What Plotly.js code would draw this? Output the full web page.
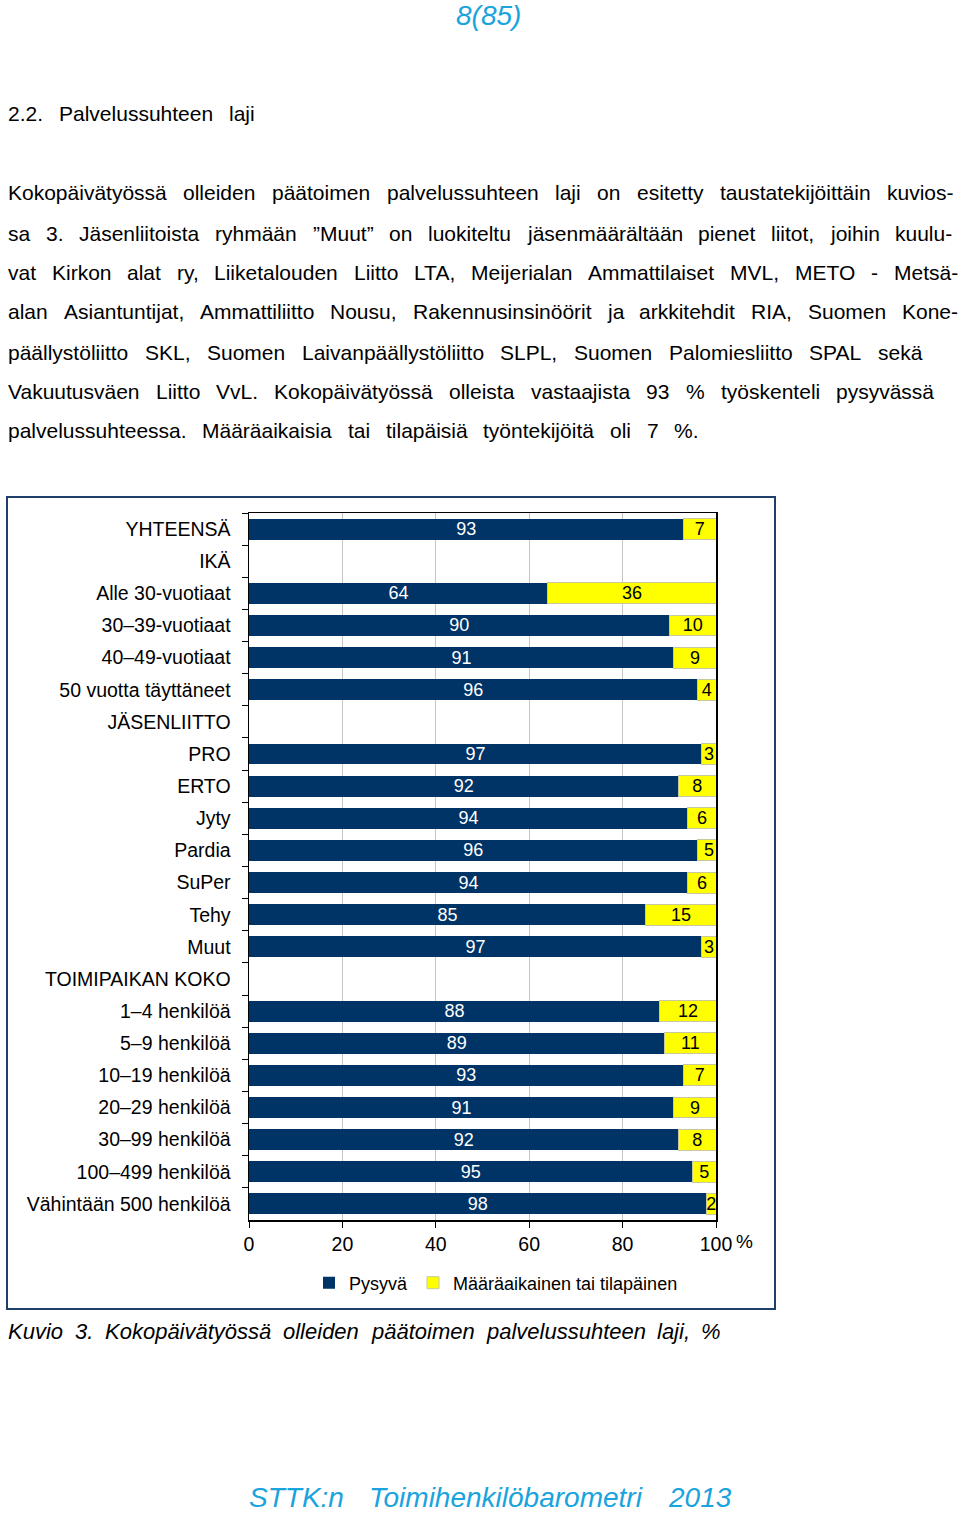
<!DOCTYPE html>
<html>
<head>
<meta charset="utf-8">
<script src="https://cdn.plot.ly/plotly-3.0.1.min.js"></script>
<style>
  body { margin: 0; background: #fff; }
  #myDiv { width: 960px; height: 1515px; }
</style>
</head>
<body>
<div id="myDiv"></div>
<script>
// chart data
var categories = ['YHTEENSÄ', 'IKÄ', 'Alle 30-vuotiaat', '30–39-vuotiaat', '40–49-vuotiaat',
  '50 vuotta täyttäneet', 'JÄSENLIITTO', 'PRO', 'ERTO', 'Jyty', 'Pardia', 'SuPer', 'Tehy',
  'Muut', 'TOIMIPAIKAN KOKO', '1–4 henkilöä', '5–9 henkilöä', '10–19 henkilöä',
  '20–29 henkilöä', '30–99 henkilöä', '100–499 henkilöä', 'Vähintään 500 henkilöä'];
var pysyva = [93, null, 64, 90, 91, 96, null, 97, 92, 94, 96, 94, 85, 97, null, 88, 89, 93, 91, 92, 95, 98];
var maaraaikainen = [7, null, 36, 10, 9, 4, null, 3, 8, 6, 5, 6, 15, 3, null, 12, 11, 7, 9, 8, 5, 2];
var xTicks = [0, 20, 40, 60, 80, 100];

// page text
var pageNo = '8(85)';
var heading = '2.2.  Palvelussuhteen  laji';
var paragraph = [
  'Kokopäivätyössä olleiden päätoimen palvelussuhteen laji on esitetty taustatekijöittäin kuvios-',
  'sa 3. Jäsenliitoista ryhmään ”Muut” on luokiteltu jäsenmäärältään pienet liitot, joihin kuulu-',
  'vat Kirkon alat ry, Liiketalouden Liitto LTA, Meijerialan Ammattilaiset MVL, METO - Metsä-',
  'alan Asiantuntijat, Ammattiliitto Nousu, Rakennusinsinöörit ja arkkitehdit RIA, Suomen Kone-',
  'päällystöliitto SKL, Suomen Laivanpäällystöliitto SLPL, Suomen Palomiesliitto SPAL sekä',
  'Vakuutusväen Liitto VvL. Kokopäivätyössä olleista vastaajista 93 % työskenteli pysyvässä',
  'palvelussuhteessa. Määräaikaisia tai tilapäisiä työntekijöitä oli 7 %.'
];
var caption = 'Kuvio 3. Kokopäivätyössä olleiden päätoimen palvelussuhteen laji, %';
var footer = 'STTK:n Toimihenkilöbarometri 2013';

var W = 960, H = 1515;
var FONT = 'Liberation Sans, Arial, sans-serif';
var navy = '#003366';
var yellow = '#FFFF00';
var blueText = '#1AA3DD';

function px(x) { return x / W; }
function py(y) { return 1 - y / H; }

var canvas = document.createElement('canvas');
var ctx = canvas.getContext('2d');

// spread the words of one line between x0 and x1, like justified text
function wordLine(str, y, x0, x1, size, style, color) {
  var words = str.split(/\s+/);
  ctx.font = (style === 'italic' ? 'italic ' : '') + size + 'px "Liberation Sans", Arial';
  var widths = words.map(function(w) { return ctx.measureText(w).width; });
  var total = widths.reduce(function(a, b) { return a + b; }, 0);
  var gap = words.length > 1 ? (x1 - x0 - total) / (words.length - 1) : 0;
  var x = x0, out = [];
  words.forEach(function(w, i) {
    out.push({
      text: w, x: px(x), y: py(y), xref: 'paper', yref: 'paper',
      xanchor: 'left', yanchor: 'middle', showarrow: false, borderpad: 0,
      font: {family: FONT, size: size, color: color, style: style || 'normal'}
    });
    x += widths[i] + gap;
  });
  return out;
}

var annotations = [];
annotations.push({
  text: pageNo, x: px(488), y: py(16), xref: 'paper', yref: 'paper',
  xanchor: 'center', yanchor: 'middle', showarrow: false,
  font: {family: FONT, size: 28, color: blueText, style: 'italic'}
});
annotations = annotations.concat(wordLine(heading, 114, 7, 254, 21, 'normal', '#000'));

var lineY = [193, 233, 273, 312, 352, 392, 431];
var lineEnd = [953, 951, 957, 957, 921, 933, 698];
paragraph.forEach(function(l, i) {
  annotations = annotations.concat(wordLine(l, lineY[i], 7, lineEnd[i], 21, 'normal', '#000'));
});
annotations = annotations.concat(wordLine(caption, 1331, 7, 720, 22, 'italic', '#000'));
annotations = annotations.concat(wordLine(footer, 1497, 248, 729, 28, 'italic', blueText));

// % sign after the last tick
annotations.push({
  text: '%', x: px(734), y: py(1241), xref: 'paper', yref: 'paper',
  xanchor: 'left', yanchor: 'middle', showarrow: false,
  font: {family: FONT, size: 19, color: '#000'}
});

function labels(arr) {
  return arr.map(function(v) { return v === null ? '' : String(v); });
}

var trace1 = {
  type: 'bar', orientation: 'h', name: 'Pysyvä',
  y: categories, x: pysyva,
  text: labels(pysyva), textposition: 'inside', insidetextanchor: 'middle',
  textangle: 0, constraintext: 'none',
  textfont: {family: FONT, size: 18, color: '#fff'},
  marker: {color: navy, line: {color: navy, width: 0}},
  hoverinfo: 'skip'
};

var trace2 = {
  type: 'bar', orientation: 'h', name: 'Määräaikainen tai tilapäinen',
  y: categories, x: maaraaikainen,
  text: labels(maaraaikainen), textposition: 'inside', insidetextanchor: 'middle',
  textangle: 0, constraintext: 'none',
  textfont: {family: FONT, size: 18, color: '#000'},
  marker: {color: yellow, line: {color: '#C8C8A0', width: 1}},
  hoverinfo: 'skip'
};

var data = [trace1, trace2];

var layout = {
  width: W, height: H,
  margin: {l: 0, r: 0, t: 0, b: 0},
  paper_bgcolor: '#fff', plot_bgcolor: '#fff',
  barmode: 'stack', bargap: 0.35,
  showlegend: true,
  legend: {
    orientation: 'h', x: px(496), xanchor: 'center', y: py(1283), yanchor: 'middle',
    font: {family: FONT, size: 18, color: '#000'}, traceorder: 'normal',
    itemwidth: 30
  },
  xaxis: {
    domain: [px(249), px(716)], range: [0, 100],
    tickvals: xTicks, ticktext: xTicks.map(String),
    showgrid: true, gridcolor: '#C4C4C4', gridwidth: 1, zeroline: false,
    showline: true, linecolor: '#000', linewidth: 1.5, mirror: true,
    ticks: 'outside', ticklen: 6, tickcolor: '#000',
    tickfont: {family: FONT, size: 19.5, color: '#000'}
  },
  yaxis: {
    domain: [py(1220), py(513)],
    type: 'category', categoryorder: 'array', categoryarray: categories,
    autorange: 'reversed',
    showgrid: false, zeroline: false,
    showline: true, linecolor: '#000', linewidth: 1.5, mirror: true,
    ticks: 'outside', ticklen: 6, tickcolor: '#000', tickson: 'boundaries',
    ticklabelstandoff: 13,
    tickfont: {family: FONT, size: 19.5, color: '#000'}
  },
  shapes: [{
    type: 'rect', xref: 'paper', yref: 'paper',
    x0: px(7), x1: px(775), y0: py(1309), y1: py(497),
    line: {color: '#1F3F6B', width: 2}, fillcolor: 'rgba(0,0,0,0)'
  }],
  annotations: annotations,
  hovermode: false
};

Plotly.newPlot('myDiv', data, layout, {staticPlot: true, displayModeBar: false});
</script>
</body>
</html>
